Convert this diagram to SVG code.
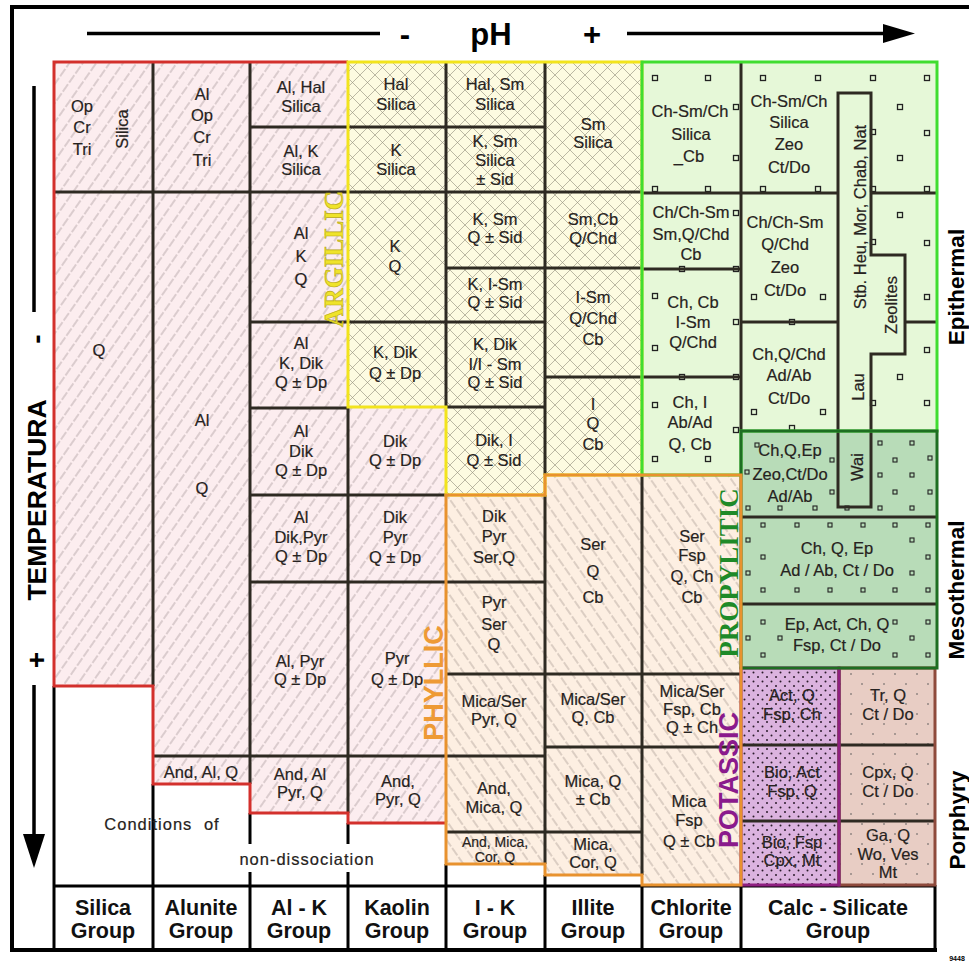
<svg xmlns="http://www.w3.org/2000/svg" xmlns:xlink="http://www.w3.org/1999/xlink" width="969" height="964" viewBox="0 0 969 964">
<style>
.c{font-family:'Liberation Sans',Arial,Helvetica,sans-serif;font-size:16.5px;fill:#262220;stroke:#262220;stroke-width:0.2;text-anchor:middle}
.s{font-size:14px}
.gl{font-family:'Liberation Sans',Arial,Helvetica,sans-serif;font-weight:bold;font-size:21.5px;fill:#111;text-anchor:middle}
.ax{font-family:'Liberation Sans',Arial,Helvetica,sans-serif;font-weight:bold;fill:#000;text-anchor:middle}
.zone{font-weight:bold;font-size:27px;text-anchor:middle}
.grid{stroke:#2e2a22;stroke-width:3;fill:none}
.blk{stroke:#000;stroke-width:3;fill:none}
</style>
<defs>
<pattern id="pk" patternUnits="userSpaceOnUse" width="11" height="11" patternTransform="rotate(35)">
<rect width="11" height="11" fill="#fcedef"/>
<line x1="5" y1="0" x2="5" y2="11" stroke="#8c8080" stroke-width="0.6" stroke-dasharray="6 2"/>
</pattern>
<pattern id="or" patternUnits="userSpaceOnUse" width="11" height="11" patternTransform="rotate(-35)">
<rect width="11" height="11" fill="#fdefe2"/>
<line x1="5" y1="0" x2="5" y2="11" stroke="#8c8078" stroke-width="0.6" stroke-dasharray="6 2"/>
</pattern>
<pattern id="yl" patternUnits="userSpaceOnUse" width="15" height="15">
<rect width="15" height="15" fill="#fdfbe1"/>
<path d="M0,0 L15,15 M15,0 L0,15" stroke="#8e8c78" stroke-width="0.6"/>
</pattern>
<pattern id="pu" patternUnits="userSpaceOnUse" width="9" height="9">
<rect width="9" height="9" fill="#dbb3df"/>
<circle cx="2" cy="2" r="1" fill="#2a1a2a"/>
<circle cx="6.5" cy="6.5" r="1" fill="#2a1a2a"/>
</pattern>
<pattern id="br" patternUnits="userSpaceOnUse" width="22" height="20">
<rect width="22" height="20" fill="#e8cdc4"/>
<circle cx="4" cy="4" r="0.8" fill="#555"/>
<circle cx="15" cy="14" r="0.8" fill="#555"/>
</pattern>
<rect id="sq" x="-2.5" y="-2.5" width="5" height="5" fill="#e6f8d8" stroke="#222" stroke-width="1.3"/>
<rect id="sd" x="-2" y="-2" width="4" height="4" fill="#b8dcb8" stroke="#222" stroke-width="1.1"/>
</defs>
<rect width="969" height="964" fill="#fff"/>

<!-- region fills -->
<g id="fills">
<polygon points="54,62 348,62 348,407 446,407 446,823 348,823 348,813 250,813 250,784 153,784 153,686 54,686" fill="url(#pk)"/>
<polygon points="348,62 642,62 642,475 545,475 545,495 446,495 446,407 348,407" fill="url(#yl)"/>
<polygon points="446,495 545,495 545,475 741,475 741,885 642,885 642,875 545,875 545,864 446,864" fill="url(#or)"/>
<polygon points="642,62 937,62 937,431 741,431 741,475 642,475" fill="#e6f8d8"/>
<rect x="741" y="431" width="196" height="237" fill="#b8dcb8"/>
<rect x="741" y="668" width="98" height="217" fill="url(#pu)"/>
<rect x="839" y="668" width="96" height="217" fill="url(#br)"/>
</g>

<!-- small squares -->
<g id="squares">
<use href="#sq" x="655" y="78"/><use href="#sq" x="708" y="78"/><use href="#sq" x="736" y="107"/><use href="#sq" x="736" y="158"/>
<use href="#sq" x="655" y="189"/><use href="#sq" x="708" y="189"/><use href="#sq" x="736" y="213"/><use href="#sq" x="682" y="269"/><use href="#sq" x="736" y="269"/>
<use href="#sq" x="655" y="296"/><use href="#sq" x="655" y="348"/><use href="#sq" x="736" y="322"/><use href="#sq" x="682" y="377"/><use href="#sq" x="736" y="377"/>
<use href="#sq" x="655" y="405"/><use href="#sq" x="736" y="430"/><use href="#sq" x="655" y="459"/><use href="#sq" x="708" y="459"/>
<use href="#sq" x="763" y="78"/><use href="#sq" x="818" y="78"/><use href="#sq" x="763" y="189"/><use href="#sq" x="818" y="189"/>
<use href="#sq" x="754" y="297"/><use href="#sq" x="823" y="297"/><use href="#sq" x="792" y="322"/><use href="#sq" x="754" y="412"/><use href="#sq" x="823" y="412"/><use href="#sq" x="792" y="428"/>
<use href="#sq" x="873" y="78"/><use href="#sq" x="927" y="78"/><use href="#sq" x="900" y="107"/><use href="#sq" x="927" y="133"/><use href="#sq" x="873" y="132"/><use href="#sq" x="900" y="158"/>
<use href="#sq" x="873" y="189"/><use href="#sq" x="927" y="189"/><use href="#sq" x="900" y="215"/><use href="#sq" x="927" y="243"/><use href="#sq" x="873" y="242"/>
<use href="#sq" x="927" y="297"/><use href="#sq" x="927" y="350"/><use href="#sq" x="900" y="377"/><use href="#sq" x="927" y="403"/><use href="#sq" x="873" y="403"/>
<use href="#sd" x="757" y="445"/><use href="#sd" x="832" y="460"/><use href="#sd" x="747" y="472"/><use href="#sd" x="832" y="492"/>
<use href="#sd" x="748" y="508"/><use href="#sd" x="780" y="508"/><use href="#sd" x="815" y="508"/><use href="#sd" x="847" y="508"/><use href="#sd" x="880" y="508"/><use href="#sd" x="912" y="508"/>
<use href="#sd" x="880" y="443"/><use href="#sd" x="912" y="443"/><use href="#sd" x="895" y="460"/><use href="#sd" x="930" y="458"/><use href="#sd" x="880" y="475"/><use href="#sd" x="912" y="475"/><use href="#sd" x="895" y="492"/><use href="#sd" x="930" y="492"/>
<use href="#sd" x="763" y="525"/><use href="#sd" x="797" y="525"/><use href="#sd" x="830" y="525"/><use href="#sd" x="863" y="525"/><use href="#sd" x="895" y="525"/><use href="#sd" x="928" y="525"/>
<use href="#sd" x="748" y="540"/><use href="#sd" x="912" y="540"/><use href="#sd" x="763" y="557"/><use href="#sd" x="928" y="557"/><use href="#sd" x="748" y="573"/><use href="#sd" x="912" y="573"/>
<use href="#sd" x="763" y="590"/><use href="#sd" x="797" y="590"/><use href="#sd" x="830" y="590"/><use href="#sd" x="863" y="590"/><use href="#sd" x="895" y="590"/><use href="#sd" x="928" y="590"/>
<use href="#sd" x="763" y="622"/><use href="#sd" x="895" y="622"/><use href="#sd" x="928" y="622"/><use href="#sd" x="748" y="638"/><use href="#sd" x="780" y="638"/><use href="#sd" x="912" y="638"/>
<use href="#sd" x="763" y="655"/><use href="#sd" x="895" y="655"/><use href="#sd" x="928" y="655"/>
</g>

<!-- internal grid lines -->
<g id="connectors">
<path class="grid" d="M54,192 H642 M642,193 H838 M871,193 H937
M153,62 V686 M250,62 V784 M348,407 V813 M446,62 V407 M545,62 V475 M545,495 V864 M642,475 V875 M741,62 V431 M839,668 V885
M250,127 H446 M446,127 H545 M250,322 H446 M250,408 H348 M250,495 H446 M250,582 H545 M153,756 H446
M446,268 H642 M446,322 H545 M446,407 H545 M545,377 H642 M446,674 H741 M446,756 H545 M545,747 H741 M446,832 H642
M642,269 H741 M642,377 H741 M741,322 H838 M905,322 H937
M741,517 H937 M741,604 H937 M741,745 H935 M741,821 H935"/>
<path class="grid" d="M838,507 V93 H871 V255 H905 V354 H871 V507 Z"/>
<path class="blk" d="M54,686 V950 M153,784 V950 M250,813 V950 M348,823 V950 M446,864 V950 M545,875 V950 M642,885 V950 M741,885 V950 M935,885 V950 M54,886 H935"/>
</g>

<!-- region borders -->
<g id="borders" fill="none" stroke-width="3" stroke-linejoin="miter">
<path d="M348,62 H54 V686 H153 V784 H250 V813 H348 V823 H446" stroke="#d3302c"/>
<polygon points="348,62 642,62 642,475 545,475 545,495 446,495 446,407 348,407" stroke="#f2e41c"/>
<polygon points="642,62 937,62 937,431 741,431 741,475 642,475" stroke="#40dd30"/>
<rect x="839" y="668" width="96" height="217" stroke="#8e4a3c"/>
<rect x="741" y="668" width="98" height="217" stroke="#8e1f80"/>
<rect x="741" y="431" width="196" height="237" stroke="#1e6e22"/>
<polygon points="446,495 545,495 545,475 741,475 741,885 642,885 642,875 545,875 545,864 446,864" stroke="#e8922e"/>
</g>

<!-- frame and axes -->
<g id="frame">
<path d="M969,7 H12 V950 H937" fill="none" stroke="#000" stroke-width="4"/>
<line x1="87" y1="33.5" x2="380" y2="33.5" stroke="#000" stroke-width="3.5"/>
<line x1="627" y1="33.5" x2="890" y2="33.5" stroke="#000" stroke-width="3.5"/>
<polygon points="883,24 915,33.5 883,43" fill="#000"/>
<text class="ax" x="405" y="45" font-size="31">-</text>
<text class="ax" x="491" y="45" font-size="31">pH</text>
<text class="ax" x="592" y="45" font-size="31">+</text>
<line x1="34" y1="86" x2="34" y2="312" stroke="#000" stroke-width="3.5"/>
<line x1="34" y1="685" x2="34" y2="840" stroke="#000" stroke-width="3.5"/>
<polygon points="23,834 45,834 34,868" fill="#000"/>
<text class="ax" font-size="28" transform="translate(46,339) rotate(-90)">-</text>
<text class="ax" font-size="26.5" transform="translate(46,500) rotate(-90)">TEMPERATURA</text>
<text class="ax" font-size="28" transform="translate(46,660) rotate(-90)">+</text>
<text class="ax" font-size="22.5" transform="translate(964,287) rotate(-90)">Epithermal</text>
<text class="ax" font-size="22.5" transform="translate(964,590) rotate(-90)">Mesothermal</text>
<text class="ax" font-size="22.5" transform="translate(965,820) rotate(-90)">Porphyry</text>
<text class="ax" font-size="7" x="957" y="961">9448</text>
</g>

<!-- zone names -->
<g id="zones">
<text class="zone" font-family="'Liberation Serif',serif" fill="#efe32a" stroke="#b8a818" stroke-width="0.6" transform="translate(343,259) rotate(-90)">ARGILLIC</text>
<text class="zone" font-family="'Liberation Sans',Arial,sans-serif" fill="#ee9a35" transform="translate(443,683) rotate(-90)">PHYLLIC</text>
<text class="zone" font-family="'Liberation Serif',serif" fill="#1e8a28" transform="translate(738,573) rotate(-90)">PROPYLITIC</text>
<text class="zone" font-family="'Liberation Sans',Arial,sans-serif" fill="#8a1a8c" transform="translate(738,780) rotate(-90)">POTASSIC</text>
</g>

<!-- cells -->
<g id="silica">
<text class="c" x="82" y="112">Op</text><text class="c" x="82" y="133">Cr</text><text class="c" x="82" y="155">Tri</text>
<text class="c" transform="translate(128,129) rotate(-90)">Silica</text>
<text class="c" x="99" y="356">Q</text>
</g>
<g id="alunite">
<text class="c" x="202" y="100">Al</text><text class="c" x="202" y="121">Op</text><text class="c" x="202" y="143">Cr</text><text class="c" x="202" y="166">Tri</text>
<text class="c" x="202" y="426">Al</text><text class="c" x="202" y="494">Q</text>
<text class="c" x="201" y="778">And, Al, Q</text>
</g>
<g id="alk">
<text class="c" x="301" y="93">Al, Hal</text><text class="c" x="301" y="112">Silica</text>
<text class="c" x="301" y="157">Al, K</text><text class="c" x="301" y="175">Silica</text>
<text class="c" x="301" y="239">Al</text><text class="c" x="301" y="262">K</text><text class="c" x="301" y="285">Q</text>
<text class="c" x="301" y="349">Al</text><text class="c" x="301" y="369">K, Dik</text><text class="c" x="301" y="388">Q ± Dp</text>
<text class="c" x="301" y="437">Al</text><text class="c" x="301" y="457">Dik</text><text class="c" x="301" y="476">Q ± Dp</text>
<text class="c" x="301" y="523">Al</text><text class="c" x="301" y="543">Dik,Pyr</text><text class="c" x="301" y="562">Q ± Dp</text>
<text class="c" x="300" y="667">Al, Pyr</text><text class="c" x="300" y="685">Q ± Dp</text>
<text class="c" x="300" y="780">And, Al</text><text class="c" x="300" y="798">Pyr, Q</text>
</g>
<g id="kaolin">
<text class="c" x="396" y="90">Hal</text><text class="c" x="396" y="110">Silica</text>
<text class="c" x="396" y="156">K</text><text class="c" x="396" y="175">Silica</text>
<text class="c" x="395" y="252">K</text><text class="c" x="395" y="272">Q</text>
<text class="c" x="395" y="358">K, Dik</text><text class="c" x="395" y="379">Q ± Dp</text>
<text class="c" x="395" y="447">Dik</text><text class="c" x="395" y="466">Q ± Dp</text>
<text class="c" x="395" y="523">Dik</text><text class="c" x="395" y="543">Pyr</text><text class="c" x="395" y="563">Q ± Dp</text>
<text class="c" x="397" y="664">Pyr</text><text class="c" x="397" y="685">Q ± Dp</text>
<text class="c" x="398" y="787">And,</text><text class="c" x="398" y="805">Pyr, Q</text>
</g>
<g id="ik">
<text class="c" x="495" y="90">Hal, Sm</text><text class="c" x="495" y="110">Silica</text>
<text class="c" x="495" y="147">K, Sm</text><text class="c" x="495" y="166">Silica</text><text class="c" x="495" y="185">± Sid</text>
<text class="c" x="495" y="225">K, Sm</text><text class="c" x="495" y="243">Q ± Sid</text>
<text class="c" x="495" y="290">K, I-Sm</text><text class="c" x="495" y="308">Q ± Sid</text>
<text class="c" x="495" y="350">K, Dik</text><text class="c" x="495" y="370">I/I - Sm</text><text class="c" x="495" y="388">Q ± Sid</text>
<text class="c" x="494" y="446">Dik, I</text><text class="c" x="494" y="466">Q ± Sid</text>
<text class="c" x="494" y="522">Dik</text><text class="c" x="494" y="542">Pyr</text><text class="c" x="494" y="563">Ser,Q</text>
<text class="c" x="494" y="608">Pyr</text><text class="c" x="494" y="630">Ser</text><text class="c" x="494" y="650">Q</text>
<text class="c" x="494" y="707">Mica/Ser</text><text class="c" x="494" y="725">Pyr, Q</text>
<text class="c" x="494" y="794">And,</text><text class="c" x="494" y="813">Mica, Q</text>
<text class="c s" x="495" y="847">And, Mica,</text><text class="c s" x="495" y="862">Cor, Q</text>
</g>
<g id="illite">
<text class="c" x="593" y="130">Sm</text><text class="c" x="593" y="148">Silica</text>
<text class="c" x="593" y="225">Sm,Cb</text><text class="c" x="593" y="244">Q/Chd</text>
<text class="c" x="593" y="303">I-Sm</text><text class="c" x="593" y="324">Q/Chd</text><text class="c" x="593" y="345">Cb</text>
<text class="c" x="593" y="410">I</text><text class="c" x="593" y="429">Q</text><text class="c" x="593" y="450">Cb</text>
<text class="c" x="593" y="550">Ser</text><text class="c" x="593" y="577">Q</text><text class="c" x="593" y="603">Cb</text>
<text class="c" x="593" y="705">Mica/Ser</text><text class="c" x="593" y="723">Q, Cb</text>
<text class="c" x="593" y="787">Mica, Q</text><text class="c" x="593" y="805">± Cb</text>
<text class="c" x="593" y="850">Mica,</text><text class="c" x="593" y="868">Cor, Q</text>
</g>
<g id="chlorite">
<text class="c" x="690" y="117">Ch-Sm/Ch</text><text class="c" x="691" y="140">Silica</text><text class="c" x="689" y="162">_Cb</text>
<text class="c" x="691" y="218">Ch/Ch-Sm</text><text class="c" x="691" y="240">Sm,Q/Chd</text><text class="c" x="691" y="260">Cb</text>
<text class="c" x="693" y="308">Ch, Cb</text><text class="c" x="693" y="328">I-Sm</text><text class="c" x="693" y="348">Q/Chd</text>
<text class="c" x="690" y="408">Ch, I</text><text class="c" x="690" y="428">Ab/Ad</text><text class="c" x="690" y="450">Q, Cb</text>
<text class="c" x="692" y="542">Ser</text><text class="c" x="692" y="561">Fsp</text><text class="c" x="692" y="582">Q, Ch</text><text class="c" x="692" y="603">Cb</text>
<text class="c" x="692" y="697">Mica/Ser</text><text class="c" x="692" y="715">Fsp, Cb</text><text class="c" x="692" y="733">Q ± Ch</text>
<text class="c" x="689" y="807">Mica</text><text class="c" x="689" y="826">Fsp</text><text class="c" x="689" y="847">Q ± Cb</text>
</g>
<g id="calcsilicate">
<text class="c" x="789" y="107">Ch-Sm/Ch</text><text class="c" x="789" y="128">Silica</text><text class="c" x="789" y="150">Zeo</text><text class="c" x="789" y="173">Ct/Do</text>
<text class="c" x="785" y="228">Ch/Ch-Sm</text><text class="c" x="785" y="250">Q/Chd</text><text class="c" x="785" y="273">Zeo</text><text class="c" x="785" y="296">Ct/Do</text>
<text class="c" x="789" y="360">Ch,Q/Chd</text><text class="c" x="789" y="381">Ad/Ab</text><text class="c" x="789" y="404">Ct/Do</text>
<text class="c" transform="translate(866,217) rotate(-90)">Stb. Heu, Mor, Chab, Nat</text>
<text class="c" transform="translate(864,387) rotate(-90)">Lau</text>
<text class="c" transform="translate(897,305) rotate(-90)">Zeolites</text>
<text class="c" transform="translate(863,467) rotate(-90)">Wai</text>
<text class="c" x="790" y="456">Ch,Q,Ep</text><text class="c" x="790" y="480">Zeo,Ct/Do</text><text class="c" x="790" y="502">Ad/Ab</text>
<text class="c" x="837" y="554">Ch, Q, Ep</text><text class="c" x="837" y="576">Ad / Ab, Ct / Do</text>
<text class="c" x="837" y="630">Ep, Act, Ch, Q</text><text class="c" x="837" y="651">Fsp, Ct / Do</text>
<text class="c" x="792" y="701">Act, Q</text><text class="c" x="792" y="720">Fsp, Ch</text>
<text class="c" x="792" y="778">Bio, Act</text><text class="c" x="792" y="797">Fsp, Q</text>
<text class="c" x="792" y="848">Bio, Fsp</text><text class="c" x="792" y="866">Cpx, Mt</text>
<text class="c" x="888" y="701">Tr, Q</text><text class="c" x="888" y="720">Ct / Do</text>
<text class="c" x="888" y="778">Cpx, Q</text><text class="c" x="888" y="797">Ct / Do</text>
<text class="c" x="888" y="841">Ga, Q</text><text class="c" x="888" y="860">Wo, Ves</text><text class="c" x="888" y="878">Mt</text>
</g>
<g id="nondissociation">
<rect x="228" y="844" width="156" height="28" fill="#fff"/>
<text class="c" x="162" y="830" font-size="18" letter-spacing="1" word-spacing="6" stroke="#fff" stroke-width="4" paint-order="stroke">Conditions of</text>
<text class="c" x="307" y="865" font-size="18" letter-spacing="1">non-dissociation</text>
</g>
<g id="groups">
<text class="gl" x="103" y="915">Silica</text><text class="gl" x="103" y="938">Group</text>
<text class="gl" x="201" y="915">Alunite</text><text class="gl" x="201" y="938">Group</text>
<text class="gl" x="299" y="915">Al - K</text><text class="gl" x="299" y="938">Group</text>
<text class="gl" x="397" y="915">Kaolin</text><text class="gl" x="397" y="938">Group</text>
<text class="gl" x="495" y="915">I - K</text><text class="gl" x="495" y="938">Group</text>
<text class="gl" x="593" y="915">Illite</text><text class="gl" x="593" y="938">Group</text>
<text class="gl" x="691" y="915">Chlorite</text><text class="gl" x="691" y="938">Group</text>
<text class="gl" x="838" y="915">Calc - Silicate</text><text class="gl" x="838" y="938">Group</text>
</g>
</svg>
